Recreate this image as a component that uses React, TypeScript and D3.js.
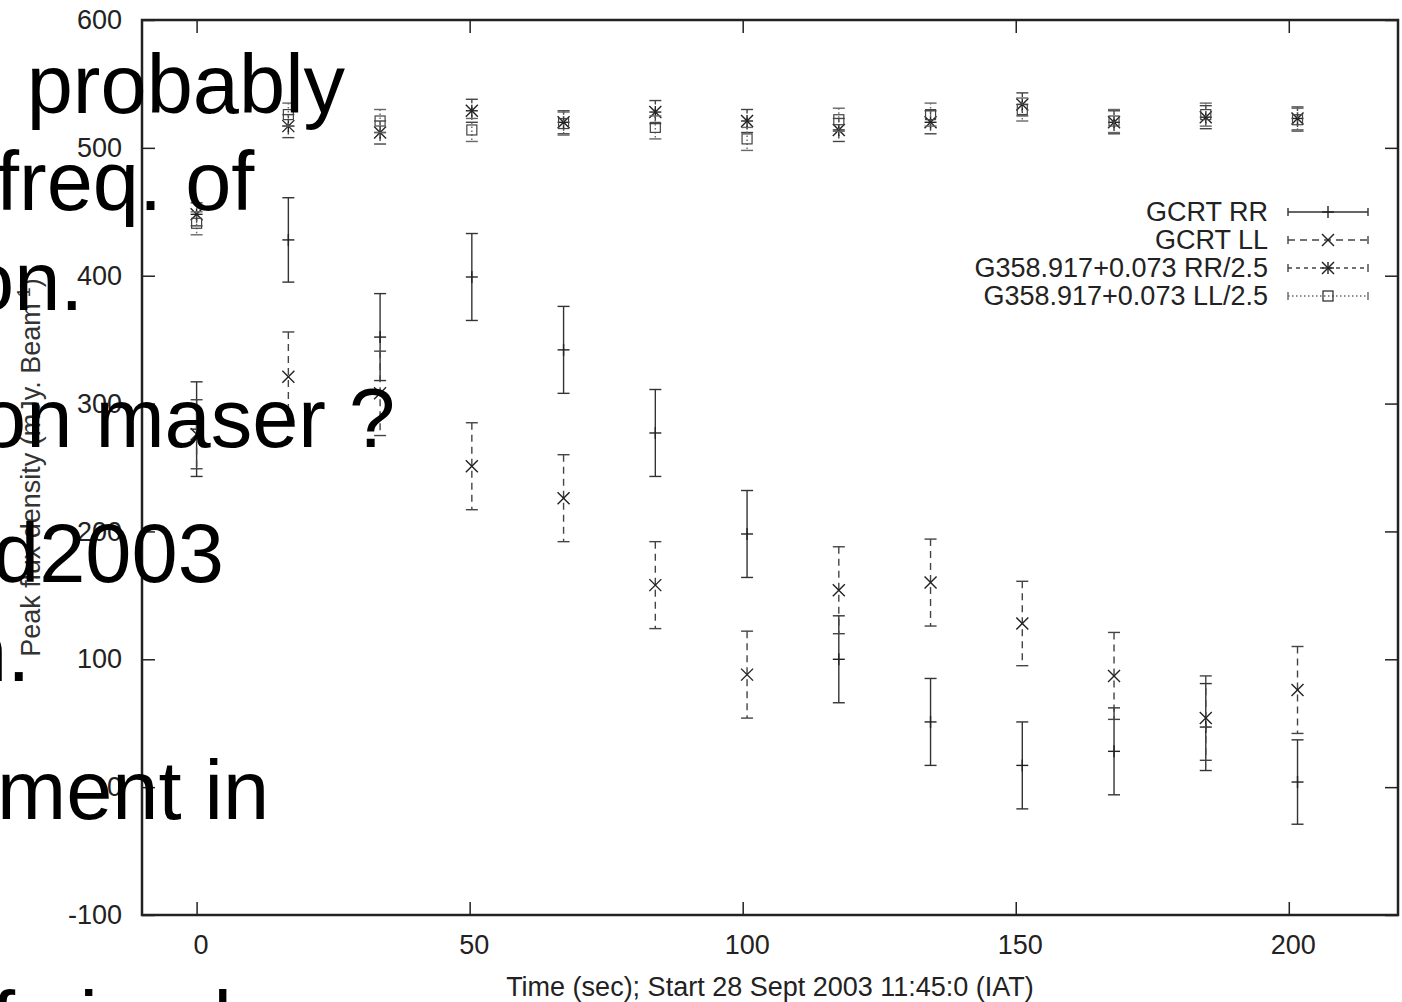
import React, { useEffect, useRef } from 'react';
import * as d3 from 'd3';

// sample times (sec)
const times = [0, 16.8, 33.6, 50.4, 67.2, 84, 100.8, 117.6, 134.4, 151.2, 168, 184.8, 201.6];

// GCRT right / left circular polarisation
const gcrtRR = [280, 428, 352, 399, 342, 277, 198, 100, 51, 17, 28, 47, 4];
const gcrtRRErr = [37, 33, 34, 34, 34, 34, 34, 34, 34, 34, 34, 34, 33];
const gcrtLL = [276, 321, 308, 251, 226, 158, 88, 154, 160, 128, 87, 54, 76];
const gcrtLLErr = [27, 35, 33, 34, 34, 34, 34, 34, 34, 33, 34, 33, 34];

// reference source, scaled by 1/2.5
const g358RR = [448, 517, 512, 529, 520, 528, 521, 514, 520, 534, 520, 524, 523];
const g358RRErr = [9, 9, 9, 9, 9, 9, 9, 9, 9, 9, 9, 9, 9];
const g358LL = [441, 526, 521, 514, 519, 516, 507, 522, 526, 530, 521, 526, 522];
const g358LLErr = [9, 9, 9, 9, 9, 9, 9, 9, 9, 9, 9, 9, 9];

const seriesNames = ['GCRT RR', 'GCRT LL', 'G358.917+0.073 RR/2.5', 'G358.917+0.073 LL/2.5'];
const xTicks = [0, 50, 100, 150, 200];
const yTicks = [-100, 0, 100, 200, 300, 400, 500, 600];
const xLabel = 'Time (sec); Start 28 Sept 2003 11:45:0 (IAT)';
const yLabel = 'Peak flux density (mJy. Beam';

// slide text lying over the plot
const slideLines = ['- probably', 'freq. of', 'on.', 'on maser ?', 'd2003', 'n.', 'ment in', 'f sing l'];
const slideX = [-24, -4, -32, -20, -7, -39, -3, -8];
const slideY = [113, 210, 310, 447, 582, 681, 819, 1050];

const FONT = '"Liberation Sans", Arial, Helvetica, sans-serif';

type Marker = 'plus' | 'cross' | 'star' | 'square';

const drawMarker = (g: any, kind: Marker, cx: number, cy: number, color: string) => {
    const s = 6;
    const line = (x1: number, y1: number, x2: number, y2: number) =>
        g.append('line').attr('x1', x1).attr('y1', y1).attr('x2', x2).attr('y2', y2)
            .attr('stroke', color).attr('stroke-width', 1.4);
    if (kind === 'plus' || kind === 'star') {
        line(cx - s, cy, cx + s, cy);
        line(cx, cy - s, cx, cy + s);
    }
    if (kind === 'cross' || kind === 'star') {
        line(cx - s, cy - s, cx + s, cy + s);
        line(cx - s, cy + s, cx + s, cy - s);
    }
    if (kind === 'square') {
        g.append('rect').attr('x', cx - 5).attr('y', cy - 5).attr('width', 10).attr('height', 10)
            .attr('fill', 'none').attr('stroke', color).attr('stroke-width', 1.2);
    }
};

const App = () => {
    const svgRef = useRef<SVGSVGElement | null>(null);
    const width = 1402;
    const height = 1002;

    useEffect(() => {
        const svg = d3.select(svgRef.current);
        svg.selectAll('*').remove();

        const plot = { left: 142, top: 20, right: 1398, bottom: 915 };

        const x = d3.scaleLinear().domain([-10, 220]).range([plot.left, plot.right]);
        const y = d3.scaleLinear().domain([-100, 600]).range([plot.bottom, plot.top]);

        svg.append('rect').attr('width', width).attr('height', height).attr('fill', '#fff');

        // axes (ticks point inward, mirrored on top/right)
        const styleAxis = (g: any) => {
            g.select('.domain').remove();
            g.selectAll('line').attr('stroke', '#222').attr('stroke-width', 1.5);
            g.selectAll('text').attr('font-family', FONT).attr('font-size', 27).attr('fill', '#222');
        };
        const plain = (d: any) => `${d}`;

        svg.append('g').attr('transform', `translate(0,${plot.bottom})`)
            .call(d3.axisBottom(x).tickValues(xTicks).tickSize(-13).tickPadding(20).tickFormat(plain))
            .call(styleAxis)
            .selectAll('text').attr('dx', 4);
        svg.append('g').attr('transform', `translate(0,${plot.top})`)
            .call(d3.axisTop(x).tickValues(xTicks).tickSize(-13).tickFormat(() => ''))
            .call(styleAxis);
        svg.append('g').attr('transform', `translate(${plot.left},0)`)
            .call(d3.axisLeft(y).tickValues(yTicks).tickSize(-13).tickPadding(20).tickFormat(plain))
            .call(styleAxis);
        svg.append('g').attr('transform', `translate(${plot.right},0)`)
            .call(d3.axisRight(y).tickValues(yTicks).tickSize(-13).tickFormat(() => ''))
            .call(styleAxis);

        svg.append('rect')
            .attr('x', plot.left).attr('y', plot.top)
            .attr('width', plot.right - plot.left).attr('height', plot.bottom - plot.top)
            .attr('fill', 'none').attr('stroke', '#222').attr('stroke-width', 2.5);

        // axis titles
        svg.append('text')
            .attr('x', (plot.left + plot.right) / 2).attr('y', 996)
            .attr('text-anchor', 'middle')
            .attr('font-family', FONT).attr('font-size', 27).attr('fill', '#222')
            .text(xLabel);

        const yl = svg.append('text')
            .attr('transform', `translate(40,${(plot.top + plot.bottom) / 2}) rotate(-90)`)
            .attr('text-anchor', 'middle')
            .attr('font-family', FONT).attr('font-size', 27).attr('fill', '#333');
        yl.append('tspan').text(yLabel);
        yl.append('tspan').attr('dy', -10).attr('font-size', 18).text('-1');
        yl.append('tspan').attr('dy', 10).text(')');

        // series with error bars
        const series = [
            { vals: gcrtRR, errs: gcrtRRErr, marker: 'plus' as Marker, dash: null, color: '#333' },
            { vals: gcrtLL, errs: gcrtLLErr, marker: 'cross' as Marker, dash: '7,5', color: '#444' },
            { vals: g358RR, errs: g358RRErr, marker: 'star' as Marker, dash: '4,4', color: '#444' },
            { vals: g358LL, errs: g358LLErr, marker: 'square' as Marker, dash: '1.5,2.5', color: '#666' },
        ];

        series.forEach((s) => {
            const g = svg.append('g');
            times.forEach((t, i) => {
                const cx = x(t);
                const y1 = y(s.vals[i] + s.errs[i]);
                const y2 = y(s.vals[i] - s.errs[i]);
                g.append('line').attr('x1', cx).attr('x2', cx).attr('y1', y1).attr('y2', y2)
                    .attr('stroke', s.color).attr('stroke-width', 1.4)
                    .attr('stroke-dasharray', s.dash);
                [y1, y2].forEach((yy) => {
                    g.append('line').attr('x1', cx - 6).attr('x2', cx + 6).attr('y1', yy).attr('y2', yy)
                        .attr('stroke', s.color).attr('stroke-width', 1.4);
                });
                drawMarker(g, s.marker, cx, y(s.vals[i]), s.color === '#666' ? '#444' : '#222');
            });
        });

        // legend
        const legend = svg.append('g');
        seriesNames.forEach((name, i) => {
            const ry = 212 + i * 28;
            legend.append('text')
                .attr('x', 1268).attr('y', ry)
                .attr('text-anchor', 'end').attr('dominant-baseline', 'central')
                .attr('font-family', FONT).attr('font-size', 27).attr('fill', '#222')
                .text(name);
            const s = series[i];
            legend.append('line').attr('x1', 1288).attr('x2', 1368).attr('y1', ry).attr('y2', ry)
                .attr('stroke', s.color).attr('stroke-width', 1.4).attr('stroke-dasharray', s.dash);
            [1288, 1368].forEach((lx) => {
                legend.append('line').attr('x1', lx).attr('x2', lx).attr('y1', ry - 4).attr('y2', ry + 4)
                    .attr('stroke', s.color).attr('stroke-width', 1.4);
            });
            drawMarker(legend, s.marker, 1328, ry, '#222');
        });

        // slide text on top
        const slide = svg.append('g');
        slideLines.forEach((line, i) => {
            slide.append('text')
                .attr('x', slideX[i]).attr('y', slideY[i])
                .attr('font-family', FONT).attr('font-size', 83).attr('fill', '#000')
                .text(line);
        });
    }, []);

    return (
        <svg
            ref={svgRef}
            width={width}
            height={height}
            style={{ position: 'fixed', left: 0, top: 0, display: 'block' }}
        />
    );
};

export default App;
